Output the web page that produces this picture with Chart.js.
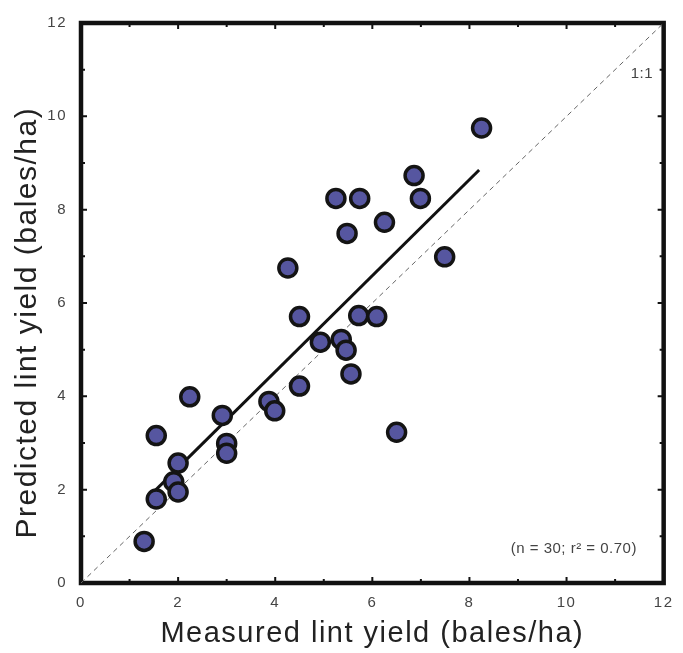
<!DOCTYPE html>
<html>
<head>
<meta charset="utf-8">
<script src="https://cdn.jsdelivr.net/npm/chart.js@4.4.0/dist/chart.umd.min.js"></script>
<style>
html,body{margin:0;padding:0;background:#fff;}
</style>
</head>
<body>
<canvas id="yield" width="683" height="653"></canvas>
<script>
// measured vs predicted lint yield, bales/ha
var measured  = [1.30,1.55,1.55,1.91,2.00,2.00,2.24,2.91,3.00,3.00,3.87,3.99,4.50,4.50,4.26,4.93,5.36,5.46,5.56,5.25,5.74,5.48,5.72,6.09,6.25,6.86,6.99,7.49,6.50,8.25];
var predicted = [0.89,1.80,3.16,2.17,1.95,2.57,3.99,3.59,2.99,2.78,3.89,3.69,4.22,5.71,6.75,5.16,5.22,4.99,4.48,8.24,8.24,7.49,5.73,5.71,7.73,8.73,8.24,6.99,3.23,9.75];
var fitX = [1.4, 8.2];
var fitY = [1.85, 8.85];
var oneX = [0, 12];
var oneY = [0, 12];
var tickVals = [0,2,4,6,8,10,12];

function pairs(xs, ys){
  var out = [];
  for (var i = 0; i < xs.length; i++) out.push({x: xs[i], y: ys[i]});
  return out;
}

var fontFam = "'Liberation Sans', Arial, sans-serif";

var framePlugin = {
  id: 'frame',
  beforeDraw: function(chart){
    chart.ctx.letterSpacing = '1.5px';
  },
  beforeDatasetsDraw: function(chart){
    var c = chart.ctx, a = chart.chartArea;
    var xs = chart.scales.x, ys = chart.scales.y;
    c.save();
    c.letterSpacing = '0px';
    c.strokeStyle = '#111';
    c.lineWidth = 2;
    for (var v = 0; v <= 12; v++) {
      var len = (v % 2 === 0) ? 6 : 4;
      var px = xs.getPixelForValue(v), py = ys.getPixelForValue(v);
      c.beginPath();
      c.moveTo(px, a.bottom); c.lineTo(px, a.bottom - len);
      c.moveTo(px, a.top); c.lineTo(px, a.top + len);
      c.moveTo(a.left, py); c.lineTo(a.left + len, py);
      c.moveTo(a.right, py); c.lineTo(a.right - len, py);
      c.stroke();
    }
    c.lineWidth = 4.5;
    c.strokeRect(a.left, a.top, a.right - a.left, a.bottom - a.top);
    c.restore();
  },
  afterDraw: function(chart){
    var c = chart.ctx;
    var xs = chart.scales.x, ys = chart.scales.y;
    c.save();
    c.letterSpacing = '0.5px';
    c.fillStyle = '#444';
    c.font = '15px ' + fontFam;
    c.textBaseline = 'middle';
    c.textAlign = 'center';
    c.fillText('1:1', xs.getPixelForValue(11.55), ys.getPixelForValue(10.9));
    c.textAlign = 'right';
    c.fillText('(n = 30; r\u00B2 = 0.70)', xs.getPixelForValue(11.45), ys.getPixelForValue(0.74));
    c.restore();
  }
};

var ctx = document.getElementById('yield').getContext('2d');
var chart = new Chart(ctx, {
  type: 'scatter',
  data: {
    datasets: [
      {
        label: 'Observations',
        data: pairs(measured, predicted),
        pointRadius: 9,
        pointHoverRadius: 9,
        borderWidth: 3.5,
        backgroundColor: '#5656a0',
        borderColor: '#141414'
      },
      {
        label: 'Fit',
        data: pairs(fitX, fitY),
        showLine: true,
        pointRadius: 0,
        borderWidth: 3,
        borderColor: '#111',
        fill: false
      },
      {
        label: '1:1',
        data: pairs(oneX, oneY),
        showLine: true,
        pointRadius: 0,
        borderWidth: 1,
        borderDash: [5, 4],
        borderColor: '#666',
        fill: false
      }
    ]
  },
  options: {
    responsive: false,
    devicePixelRatio: 1,
    animation: false,
    layout: { padding: { top: 18, right: 13, left: 0, bottom: 0 } },
    plugins: { legend: { display: false }, tooltip: { enabled: false } },
    scales: {
      x: {
        type: 'linear', min: 0, max: 12,
        afterBuildTicks: function(s){ s.ticks = tickVals.map(function(v){ return {value: v}; }); },
        afterFit: function(s){ s.height = 70; },
        grid: { display: false, drawTicks: false },
        border: { display: false },
        ticks: { padding: 11, color: '#444', maxRotation: 0, autoSkip: false,
                 font: { family: fontFam, size: 15 } },
        title: { display: true, text: 'Measured lint yield (bales/ha)', color: '#222',
                 font: { family: fontFam, size: 29 }, padding: { top: 0, bottom: 1.6 } }
      },
      y: {
        type: 'linear', min: 0, max: 12,
        afterBuildTicks: function(s){ s.ticks = tickVals.map(function(v){ return {value: v}; }); },
        afterFit: function(s){ s.width = 81; },
        grid: { display: false, drawTicks: false },
        border: { display: false },
        ticks: { padding: 14, color: '#444', autoSkip: false,
                 font: { family: fontFam, size: 15 } },
        title: { display: true, text: 'Predicted lint yield (bales/ha)    ', color: '#222',
                 font: { family: fontFam, size: 30 }, padding: { top: 9.5, bottom: 0 } }
      }
    }
  },
  plugins: [framePlugin]
});
</script>
</body>
</html>
